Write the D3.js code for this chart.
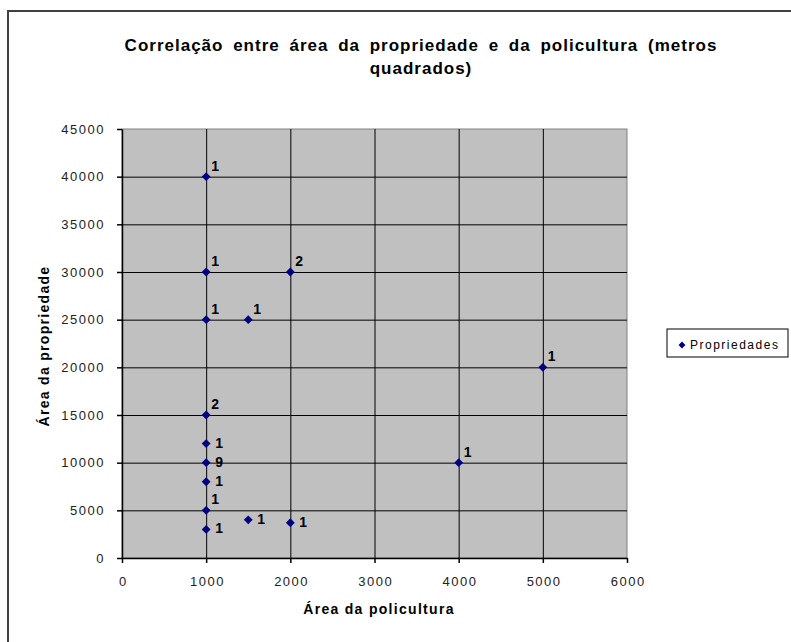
<!DOCTYPE html>
<html>
<head>
<meta charset="utf-8">
<script src="https://cdn.jsdelivr.net/npm/d3@7"></script>
<style>
  body { margin: 0; background: #fff; }
  svg { display: block; }
</style>
</head>
<body>
<div id="chart"></div>
<script>
// data
const areaPolicultura = [1000, 1000, 2000, 1000, 1500, 5000, 1000, 1000, 1000, 4000, 1000, 1000, 1500, 2000, 1000]
const areaPropriedade = [40000, 30000, 30000, 25000, 25000, 20000, 15000, 12000, 10000, 10000, 8000, 5000, 4000, 3700, 3000]
const contagem = ["1", "1", "2", "1", "1", "1", "2", "1", "9", "1", "1", "1", "1", "1", "1"]
const labelSide = ["above", "above", "above", "above", "above", "above", "above", "right", "right", "above", "right", "above", "right", "right", "right"]
const xTicks = [0, 1000, 2000, 3000, 4000, 5000, 6000]
const yTicks = [0, 5000, 10000, 15000, 20000, 25000, 30000, 35000, 40000, 45000]
const titleLines = ["Correlação entre área da propriedade e da policultura (metros", "quadrados)"]
const xTitle = "Área da policultura"
const yTitle = "Área da propriedade"
const seriesName = "Propriedades"

const W = 791, H = 642
const plot = { left: 122, right: 627, top: 129, bottom: 558 }
const FONT = "Arial, 'Liberation Sans', sans-serif"

const svg = d3.select("#chart").append("svg")
	.attr("width", W)
	.attr("height", H)

// outer chart border (runs off the bottom/right of the picture)
svg.append("rect")
	.attr("x", 8).attr("y", 11)
	.attr("width", 820).attr("height", 700)
	.attr("fill", "#fff")
	.attr("stroke", "#404040")
	.attr("stroke-width", 2)

const x = d3.scaleLinear().domain([0, 6000]).range([plot.left, plot.right])
const y = d3.scaleLinear().domain([0, 45000]).range([plot.bottom, plot.top])

// plot area
svg.append("rect")
	.attr("x", plot.left).attr("y", plot.top)
	.attr("width", plot.right - plot.left)
	.attr("height", plot.bottom - plot.top)
	.attr("fill", "#c0c0c0")
	.attr("stroke", "#808080")
	.attr("stroke-width", 1)

// gridlines
svg.append("g")
	.attr("transform", `translate(0,${plot.bottom})`)
	.call(d3.axisBottom(x).tickValues(xTicks.slice(1, -1)).tickSize(-(plot.bottom - plot.top)).tickFormat(""))
	.call(g => g.select(".domain").remove())
	.selectAll("line").attr("stroke", "#000").attr("stroke-width", 1)

svg.append("g")
	.attr("transform", `translate(${plot.left},0)`)
	.call(d3.axisLeft(y).tickValues(yTicks.slice(1, -1)).tickSize(-(plot.right - plot.left)).tickFormat(""))
	.call(g => g.select(".domain").remove())
	.selectAll("line").attr("stroke", "#000").attr("stroke-width", 1)

// axes
const xAxis = svg.append("g")
	.attr("transform", `translate(0,${plot.bottom})`)
	.call(d3.axisBottom(x).tickValues(xTicks).tickFormat(d3.format("d")).tickSize(5).tickSizeOuter(0).tickPadding(14))
const yAxis = svg.append("g")
	.attr("transform", `translate(${plot.left},0)`)
	.call(d3.axisLeft(y).tickValues(yTicks).tickFormat(d3.format("d")).tickSize(5).tickSizeOuter(0).tickPadding(12))

;[xAxis, yAxis].forEach(a => {
	a.select(".domain").attr("stroke", "#000").attr("stroke-width", 1.5)
	a.selectAll(".tick line").attr("stroke", "#000").attr("stroke-width", 1.5)
	a.selectAll("text")
		.style("font-family", FONT)
		.style("font-size", "13px")
		.style("letter-spacing", "1.5px")
		.attr("fill", "#222")
})
xAxis.selectAll("text").attr("dx", "0.75px")

// titles
svg.append("text")
	.attr("y", 51)
	.attr("text-anchor", "middle")
	.style("font-family", FONT)
	.style("font-size", "17px")
	.style("font-weight", "bold")
	.style("letter-spacing", "1px")
	.style("word-spacing", "4px")
	.selectAll("tspan")
	.data(titleLines)
	.join("tspan")
	.attr("x", 421)
	.attr("dy", (d, i) => i === 0 ? 0 : 23)
	.text(d => d)

svg.append("text")
	.attr("x", 379).attr("y", 614)
	.attr("text-anchor", "middle")
	.style("font-family", FONT)
	.style("font-size", "14px")
	.style("font-weight", "bold")
	.style("letter-spacing", "1.3px")
	.text(xTitle)

svg.append("text")
	.attr("transform", "translate(49,346) rotate(-90)")
	.attr("text-anchor", "middle")
	.style("font-family", FONT)
	.style("font-size", "14px")
	.style("font-weight", "bold")
	.style("letter-spacing", "1.3px")
	.text(yTitle)

// points
const points = areaPolicultura.map((v, i) => ({
	x: v, y: areaPropriedade[i], label: contagem[i], side: labelSide[i]
}))

const diamond = d3.symbol().type(d3.symbolDiamond2).size(50)

svg.append("g")
	.selectAll("path")
	.data(points)
	.join("path")
	.attr("transform", d => `translate(${x(d.x)},${y(d.y)})`)
	.attr("d", diamond)
	.attr("fill", "#000080")

svg.append("g")
	.selectAll("text")
	.data(points)
	.join("text")
	.attr("x", d => x(d.x) + (d.side === "above" ? 5 : 9))
	.attr("y", d => y(d.y) + (d.side === "above" ? -6 : 4))
	.style("font-family", FONT)
	.style("font-size", "14px")
	.style("font-weight", "bold")
	.text(d => d.label)

// legend
const legend = svg.append("g").attr("transform", "translate(667,329)")
legend.append("rect")
	.attr("width", 121).attr("height", 28)
	.attr("fill", "#fff")
	.attr("stroke", "#000")
	.attr("stroke-width", 1)
legend.append("path")
	.attr("transform", "translate(15,16)")
	.attr("d", d3.symbol().type(d3.symbolDiamond2).size(30))
	.attr("fill", "#000080")
legend.append("text")
	.attr("x", 23).attr("y", 20)
	.style("font-family", FONT)
	.style("font-size", "12px")
	.style("letter-spacing", "1.5px")
	.text(seriesName)
</script>
</body>
</html>
